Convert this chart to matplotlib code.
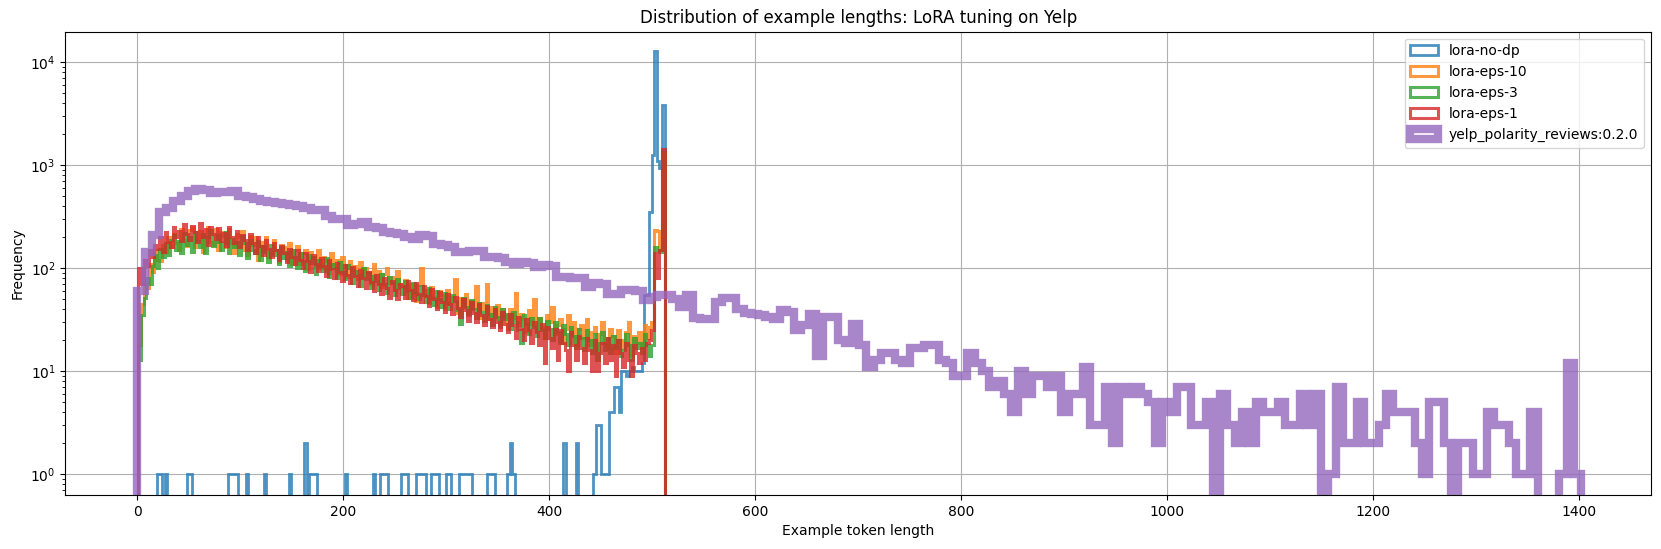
import numpy as np
import matplotlib.pyplot as plt

# histogram ranges (token lengths), 200 bins each
n_bins = 200
nodp_range = (19, 512)
lora_range = (1, 512)
yelp_range = (0, 1402)

# lora-no-dp: non-empty bin indices and their counts
nodp_bin = [0, 1, 3, 12, 13, 28, 29, 30, 31, 35, 42, 52, 58, 60, 61, 62, 74, 85,
            88, 89, 90, 96, 97, 98, 102, 103, 104, 105, 108, 109, 110, 114, 115,
            119, 120, 121, 122, 123, 130, 131, 132, 138, 139, 140, 160, 165,
            172, 173, 174, 175, 176, 177, 178, 179, 180, 181, 182, 183, 184, 185,
            186, 187, 188, 189, 190, 191, 192, 193, 194, 195, 196, 197, 198, 199]
nodp_cnt = [1, 1, 1, 1, 1, 1, 1, 1, 1, 1, 1, 1, 2, 1, 1, 1, 1, 1,
            1, 1, 1, 1, 1, 1, 1, 1, 1, 1, 1, 1, 1, 1, 1,
            1, 1, 1, 1, 1, 1, 1, 1, 1, 2, 1, 2, 2,
            1, 3, 3, 1, 1, 1, 4, 4, 7, 7, 4, 10, 10, 9,
            10, 11, 10, 10, 10, 12, 55, 55, 355, 1260, 12900, 1100, 950, 3850]

eps10 = [18, 45, 70, 65, 110, 92, 150, 120, 118, 170,
         145, 200, 160, 215, 175, 150, 240, 190, 165, 235,
         250, 160, 195, 230, 145, 210, 255, 180, 170, 240,
         150, 225, 205, 160, 240, 175, 140, 215, 200, 230,
         150, 135, 205, 170, 200, 120, 180, 150, 200, 130,
         140, 190, 150, 115, 170, 160, 120, 175, 110, 150,
         165, 110, 140, 150, 98, 145, 125, 105, 150, 100,
         130, 118, 90, 140, 100, 120, 88, 128, 105, 82,
         118, 96, 105, 78, 115, 85, 100, 92, 70, 110,
         80, 95, 66, 88, 100, 72, 82, 62, 95, 70,
         66, 77, 51, 70, 58, 48, 69, 100, 55, 62,
         46, 66, 53, 42, 60, 55, 40, 62, 46, 53,
         78, 37, 51, 44, 56, 35, 48, 41, 68, 33,
         46, 40, 70, 32, 42, 37, 44, 29, 40, 35,
         26, 40, 33, 58, 28, 36, 32, 24, 39, 29,
         50, 25, 33, 27, 21, 35, 30, 42, 23, 28,
         32, 19, 26, 35, 23, 30, 18, 26, 28, 21,
         32, 18, 24, 27, 16, 23, 30, 19, 17, 26,
         22, 15, 25, 20, 17, 24, 30, 14, 22, 19,
         24, 17, 28, 21, 27, 30, 235, 230, 150, 1300]

eps3 = [13, 35, 52, 80, 70, 105, 135, 100, 155, 130,
        175, 135, 190, 210, 150, 185, 140, 220, 170, 200,
        145, 225, 185, 160, 215, 140, 200, 235, 165, 180,
        210, 150, 175, 225, 140, 195, 160, 180, 135, 205,
        175, 125, 190, 150, 140, 185, 120, 165, 145, 115,
        170, 135, 150, 110, 160, 125, 145, 105, 150, 128,
        100, 140, 118, 95, 135, 112, 128, 88, 120, 105,
        95, 125, 82, 110, 100, 80, 115, 92, 78, 108,
        100, 72, 95, 86, 68, 100, 78, 90, 64, 85,
        76, 62, 88, 70, 58, 82, 72, 55, 78, 64,
        56, 76, 60, 52, 72, 58, 50, 68, 55, 47,
        65, 52, 44, 60, 50, 42, 58, 46, 40, 55,
        48, 39, 29, 52, 42, 36, 49, 40, 33, 46,
        38, 31, 44, 36, 28, 42, 34, 27, 40, 32,
        36, 26, 38, 30, 25, 19, 35, 29, 23, 33,
        27, 22, 33, 25, 21, 31, 26, 20, 30, 24,
        19, 28, 23, 18, 27, 22, 17, 26, 21, 16,
        25, 20, 15, 23, 13, 19, 24, 16, 21, 15,
        22, 17, 20, 14, 16, 23, 18, 13, 21, 17,
        19, 15, 23, 18, 14, 18, 160, 150, 145, 1350]

eps1 = [100, 70, 120, 105, 150, 130, 170, 155, 200, 145,
        225, 180, 160, 250, 200, 230, 185, 270, 215, 190,
        260, 225, 180, 275, 200, 240, 170, 255, 215, 195,
        245, 185, 220, 165, 250, 200, 175, 230, 160, 210,
        190, 150, 215, 175, 140, 200, 165, 135, 190, 155,
        130, 175, 150, 120, 165, 140, 115, 155, 130, 110,
        150, 120, 100, 140, 118, 92, 135, 110, 95, 125,
        105, 85, 120, 98, 80, 112, 92, 76, 108, 86,
        72, 102, 85, 68, 96, 80, 64, 92, 74, 60,
        86, 70, 56, 80, 65, 52, 76, 62, 50, 70,
        67, 52, 76, 62, 49, 72, 56, 47, 67, 54,
        43, 63, 50, 40, 59, 47, 38, 56, 45, 36,
        53, 41, 34, 50, 39, 31, 47, 37, 30, 45,
        35, 28, 43, 32, 27, 40, 30, 25, 38, 29,
        24, 36, 28, 21, 34, 26, 20, 32, 25, 19,
        30, 24, 18, 29, 12, 27, 21, 17, 26, 13,
        25, 19, 16, 10, 24, 18, 13, 22, 17, 12,
        21, 16, 10, 20, 10, 15, 19, 12, 21, 13,
        18, 9, 20, 15, 11, 19, 13, 9, 18, 15,
        12, 17, 13, 19, 20, 25, 140, 80, 150, 1430]

yelp = [60, 145, 210, 350, 390, 450, 510, 570, 590, 580,
        540, 555, 555, 560, 500, 490, 470, 450, 440, 430,
        420, 410, 400, 390, 370, 365, 320, 300, 300, 265,
        270, 280, 250, 245, 225, 220, 215, 200, 195, 210,
        205, 172, 170, 160, 145, 145, 148, 148, 128, 128,
        126, 116, 110, 115, 114, 104, 107, 106, 82, 82,
        80, 80, 66, 72, 70, 57, 57, 62, 61, 60,
        49, 53, 55, 55, 50, 42, 55, 33, 32, 32,
        47, 52, 52, 40, 37, 36, 35, 34, 32, 39,
        38, 25, 28, 36, 14, 34, 34, 20, 19, 29,
        18, 11, 13, 15, 15, 13, 12, 17, 17, 18,
        18, 13, 12, 9, 9, 15, 12, 10, 7, 8,
        6, 4, 10, 6, 9, 9, 7, 9, 4, 6,
        6, 11, 3, 3, 7, 2, 7, 6, 7, 6,
        5, 2, 5, 4, 7, 7, 3, 3, 5, 0,
        6, 3, 2, 4, 2, 5, 4, 4, 5, 3,
        3, 6, 3, 6, 0, 1, 7, 2, 2, 5,
        2, 2, 3, 6, 4, 4, 4, 2, 1, 5,
        5, 2, 0, 2, 2, 1, 1, 4, 3, 3,
        2, 1, 1, 4, 0, 0, 0, 1, 12, 1]


def step_hist(ax, counts, rng, **kw):
    edges = np.linspace(rng[0], rng[1], n_bins + 1)
    centers = (edges[:-1] + edges[1:]) / 2
    ax.hist(centers, bins=edges, weights=counts, histtype='step', alpha=0.8, **kw)


nodp = np.zeros(n_bins)
nodp[nodp_bin] = nodp_cnt

fig, ax = plt.subplots(figsize=(16.61, 5.49), dpi=100)
fig.subplots_adjust(left=0.0393, right=0.994, bottom=0.0984, top=0.9423)

step_hist(ax, nodp, nodp_range, linewidth=2, label='lora-no-dp')
step_hist(ax, eps10, lora_range, linewidth=2.2, label='lora-eps-10')
step_hist(ax, eps3, lora_range, linewidth=2.2, label='lora-eps-3')
step_hist(ax, eps1, lora_range, linewidth=2.2, label='lora-eps-1')
step_hist(ax, yelp, yelp_range, linewidth=6, label='yelp_polarity_reviews:0.2.0')

ax.set_yscale('log')
ax.set_ylim(0.63, 19900)
ax.set_xlim(-70, 1470)
ax.set_title('Distribution of example lengths: LoRA tuning on Yelp')
ax.set_xlabel('Example token length')
ax.set_ylabel('Frequency')
ax.grid(True)
ax.legend(loc='upper right')

fig.savefig('out.png', dpi=100)
